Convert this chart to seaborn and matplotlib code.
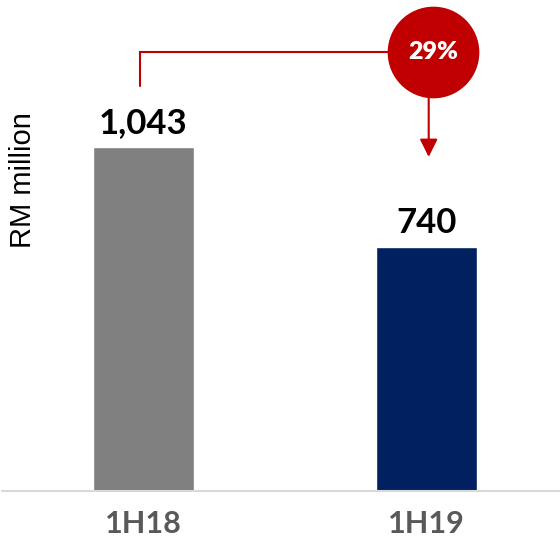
import matplotlib
matplotlib.use("Agg")
import matplotlib.pyplot as plt
import seaborn as sns
import pandas as pd

categories = ["1H18", "1H19"]
values = [1043, 740]
value_labels = ["1,043", "740"]
change_label = "29%"
bar_colors = ["#808080", "#002060"]
red = "#C00000"

sns.set_theme(style="white")
plt.rcParams["font.family"] = ["Lato", "DejaVu Sans"]

df = pd.DataFrame({"period": categories, "value": values})

fig = plt.figure(figsize=(5.6, 5.5), dpi=100)
ax = fig.add_axes([2 / 560, 59 / 550, 558 / 560, 491 / 550])
sns.barplot(data=df, x="period", y="value", hue="period", palette=bar_colors,
            width=0.357, legend=False, ax=ax, saturation=1)

ax.set_xlim(-0.5, 1.472)
ax.set_ylim(0, 1489)
for s in ax.spines.values():
    s.set_visible(False)
ax.set_yticks([])
ax.set_xlabel("")
ax.set_ylabel("")
ax.axhline(0, color="#D9D9D9", lw=1.5, clip_on=False)
ax.tick_params(axis="x", length=0, pad=14)
for lbl in ax.get_xticklabels():
    lbl.set_fontsize(22)
    lbl.set_fontweight("bold")
    lbl.set_color("#595959")

for i, (v, t) in enumerate(zip(values, value_labels)):
    ax.annotate(t, (i, v), xytext=(0, 10), textcoords="offset points",
                ha="center", va="baseline", fontsize=25, fontweight="bold",
                color="black")

# bracket line + circle + arrow
y_br = values[0] * 1.276
ax.plot([-0.012, -0.012, 0.88], [values[0] * 1.177, y_br, y_br], color=red, lw=1.5,
        solid_joinstyle="miter")
cx = 1.023
ax.scatter([cx], [y_br], s=66 ** 2, color=red, zorder=5, linewidths=0)
ax.text(cx, y_br, change_label, ha="center", va="center", fontsize=18,
        fontweight="heavy", color="white", zorder=6)
ax.annotate("", xy=(1.008, values[1] * 1.369), xytext=(1.008, values[0] * 1.143),
            arrowprops=dict(arrowstyle="-|>,head_length=0.54,head_width=0.27",
                            mutation_scale=20, color=red, lw=1.5,
                            shrinkA=0, shrinkB=0))

fig.text(23 / 560, 1 - 180 / 550, "RM million", rotation=90, ha="center", va="center",
         fontsize=21, color="black", family=["Liberation Sans", "DejaVu Sans"])

fig.savefig("out.png", dpi=100)
